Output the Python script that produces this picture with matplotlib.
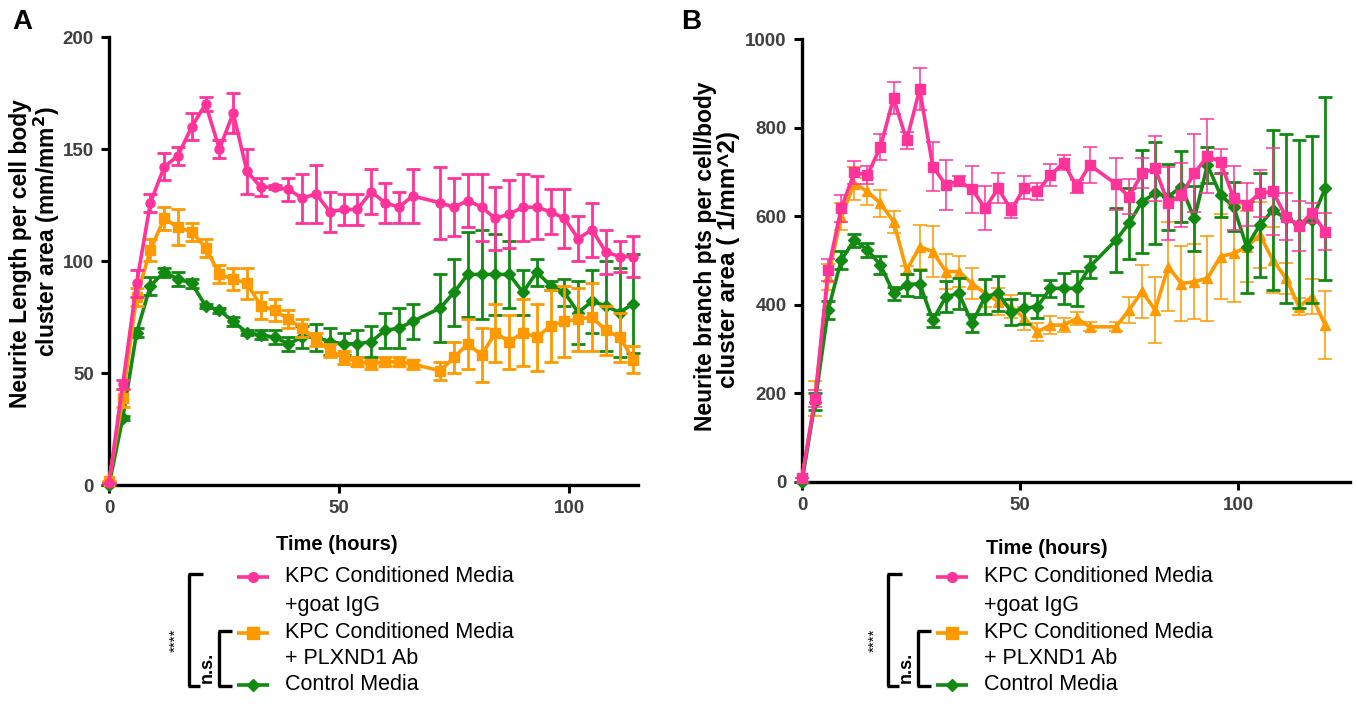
import matplotlib
matplotlib.use("Agg")
import matplotlib.pyplot as plt
from matplotlib.lines import Line2D
import numpy as np

plt.rcParams['font.family'] = ['Liberation Sans', 'DejaVu Sans']

W, H = 1358, 704

# ---------------- data ----------------
tA = [0, 3, 6, 9, 12, 15, 18, 21, 24, 27, 30, 33, 36, 39, 42, 45, 48, 51, 54, 57, 60, 63, 66,
      72, 75, 78, 81, 84, 87, 90, 93, 96, 99, 102, 105, 108, 111, 114]
A_igg = [1, 45, 90, 126, 142, 147, 160, 170, 150, 166, 140, 133, 133, 132, 128, 130, 122, 123, 123, 131, 126, 124, 129,
         126, 124, 127, 124, 119, 121, 124, 124, 122, 119, 110, 114, 104, 102, 102]
A_igg_err = [0, 2, 6, 4, 6, 4, 6, 3, 4, 9, 10, 4, 1, 5, 11, 13, 9, 7, 7, 10, 9, 7, 12,
             16, 13, 12, 15, 14, 15, 15, 14, 10, 13, 10, 12, 10, 7, 9]
A_ab = [2, 39, 84, 105, 119, 115, 113, 106, 94, 92, 90, 80, 78, 74, 70, 65, 60, 57, 55, 54, 55, 55, 54,
        51, 57, 63, 58, 68, 64, 68, 66, 71, 73, 74, 75, 69, 66, 56]
A_ab_err = [0, 4, 4, 5, 5, 8, 4, 4, 4, 5, 7, 6, 5, 4, 4, 3, 3, 3, 2, 2, 2, 2, 2,
            4, 7, 11, 12, 13, 12, 15, 15, 16, 16, 14, 15, 11, 11, 6]
A_ctl = [0, 30, 68, 89, 95, 92, 90, 80, 78, 73, 68, 67, 66, 63, 66, 66, 64, 63, 63, 64, 69, 70, 73,
         79, 86, 94, 94, 94, 94, 86, 95, 89, 86, 77, 82, 80, 77, 81]
A_ctl_err = [0, 1, 2, 4, 2, 3, 2, 1, 1, 2, 1, 2, 3, 3, 5, 6, 6, 5, 6, 7, 8, 9, 8,
             15, 15, 19, 20, 18, 15, 10, 6, 2, 6, 14, 14, 20, 20, 22]

tB = [0, 3, 6, 9, 12, 15, 18, 21, 24, 27, 30, 33, 36, 39, 42, 45, 48, 51, 54, 57, 60, 63, 66,
      72, 75, 78, 81, 84, 87, 90, 93, 96, 99, 102, 105, 108, 111, 114, 117, 120]
B_igg = [8, 188, 478, 618, 699, 693, 757, 867, 772, 887, 712, 671, 680, 661, 618, 663, 614, 665, 656, 693, 721, 667, 716,
         673, 644, 697, 708, 629, 648, 697, 736, 723, 641, 626, 652, 656, 599, 578, 608, 565]
B_igg_err = [0, 20, 25, 30, 25, 20, 30, 36, 19, 47, 56, 56, 11, 53, 50, 34, 17, 26, 19, 24, 17, 15, 41,
             58, 40, 34, 73, 83, 73, 88, 83, 28, 73, 49, 53, 98, 53, 57, 23, 42]
B_ab = [8, 188, 463, 599, 674, 656, 629, 588, 478, 531, 520, 475, 475, 448, 426, 407, 396, 369, 339, 354, 354, 369, 350,
        350, 388, 430, 388, 486, 448, 452, 460, 509, 516, 531, 558, 501, 460, 396, 418, 354]
B_ab_err = [0, 40, 30, 30, 38, 30, 30, 25, 10, 50, 58, 40, 35, 35, 30, 30, 25, 25, 20, 20, 15, 15, 10,
            10, 30, 60, 75, 100, 85, 85, 96, 96, 110, 80, 75, 75, 35, 20, 40, 77]
B_ctl = [0, 181, 388, 501, 546, 524, 490, 426, 445, 448, 365, 418, 426, 358, 418, 426, 384, 392, 396, 437, 437, 437, 486,
         546, 584, 633, 652, 644, 667, 595, 716, 648, 622, 531, 580, 614, 595, 582, 592, 663]
B_ctl_err = [0, 20, 20, 20, 15, 15, 20, 15, 25, 30, 15, 35, 35, 20, 40, 40, 30, 35, 25, 20, 35, 40, 25,
             72, 80, 117, 115, 75, 80, 73, 40, 50, 55, 104, 117, 180, 192, 190, 189, 207]

PINK = '#ff3399'
ORANGE = '#ff9900'
GREEN = '#128a12'

fig = plt.figure(figsize=(W / 100, H / 100), dpi=100)


def fx(x):
    return x / W


def fy(y):
    return 1 - y / H


def style_axes(ax, xlim, ylim, yticks):
    ax.set_xlim(*xlim)
    ax.set_ylim(*ylim)
    ax.set_xticks([0, 50, 100])
    ax.set_yticks(yticks)
    for s in ['top', 'right']:
        ax.spines[s].set_visible(False)
    for s in ['left', 'bottom']:
        ax.spines[s].set_linewidth(2.4)
        ax.spines[s].set_color('black')
    ax.tick_params(axis='both', direction='out', length=6, width=2.2, colors='black',
                   labelcolor='#404040', labelsize=13.5, pad=5)
    for lab in ax.get_xticklabels() + ax.get_yticklabels():
        lab.set_fontweight('bold')
    ax.patch.set_alpha(0)


def plot_series(ax, t, y, e, color, marker, ms, elw, z):
    cont = ax.errorbar(t, y, yerr=e, color=color, marker=marker, markersize=ms, lw=2.6,
                       elinewidth=elw, capsize=5, capthick=elw, zorder=z)
    for art in cont.get_children():
        art.set_clip_on(False)
    cont.lines[0].set_clip_on(False)


# ---------------- panel A ----------------
axA = fig.add_axes([fx(109), fy(485), fx(638) - fx(109), (485 - 37) / H])
plot_series(axA, tA, A_ctl, A_ctl_err, GREEN, 'D', 6, 2.0, 3)
plot_series(axA, tA, A_ab, A_ab_err, ORANGE, 's', 7.5, 2.0, 4)
plot_series(axA, tA, A_igg, A_igg_err, PINK, 'o', 6.5, 2.0, 5)
style_axes(axA, (0, 115), (0, 200), [0, 50, 100, 150, 200])

# ---------------- panel B ----------------
axB = fig.add_axes([fx(802), fy(481.7), fx(1350) - fx(802), (481.7 - 39.3) / H])
plot_series(axB, tB, B_ab, B_ab_err, ORANGE, '^', 7, 1.1, 3)
plot_series(axB, tB, B_ctl, B_ctl_err, GREEN, 'D', 6, 2.0, 4)
plot_series(axB, tB, B_igg, B_igg_err, PINK, 's', 7, 1.1, 5)
style_axes(axB, (0, 125.7), (0, 1000), [0, 200, 400, 600, 800, 1000])

# ---------------- texts ----------------
fig.text(fx(22), fy(22), 'A', fontsize=20, fontweight='bold', ha='center', va='center')
fig.text(fx(691), fy(22), 'B', fontsize=20, fontweight='bold', ha='center', va='center')

fig.text(fx(21), fy(254), 'Neurite Length per cell body', rotation=90, fontsize=16.5,
         fontweight='bold', ha='center', va='center')
fig.text(fx(47), fy(232), 'cluster area (mm/mm$^{\\mathbf{2}}$)', rotation=90, fontsize=16.5,
         fontweight='bold', ha='center', va='center')
fig.text(fx(705), fy(256), 'Neurite branch pts per cell/body', rotation=90, fontsize=16.5,
         fontweight='bold', ha='center', va='center')
fig.text(fx(728), fy(259), 'cluster area ( 1/mm^2)', rotation=90, fontsize=17.5,
         fontweight='bold', ha='center', va='center')

fig.text(fx(337), fy(545), 'Time (hours)', fontsize=14.5, fontweight='bold', ha='center', va='center')
fig.text(fx(1047), fy(548), 'Time (hours)', fontsize=14.5, fontweight='bold', ha='center', va='center')


# ---------------- legends ----------------
def line(x1, y1, x2, y2, color='black', lw=2.4):
    fig.add_artist(Line2D([fx(x1), fx(x2)], [fy(y1), fy(y2)], transform=fig.transFigure,
                          color=color, lw=lw, solid_capstyle='butt'))


def legend(dx):
    handles = [(577, PINK, 'o', 7), (633, ORANGE, 's', 8), (685, GREEN, 'D', 6.5)]
    for (y, c, m, ms) in handles:
        line(237 + dx, y, 269 + dx, y, color=c, lw=2.6)
        fig.add_artist(Line2D([fx(253 + dx)], [fy(y)], transform=fig.transFigure,
                              color=c, marker=m, markersize=ms, lw=0))
    rows = [(577, 'KPC Conditioned Media'), (605, '+goat IgG'), (633, 'KPC Conditioned Media'),
            (659, '+ PLXND1 Ab'), (685, 'Control Media')]
    for y, s in rows:
        fig.text(fx(285 + dx), fy(y), s, fontsize=15.5, ha='left', va='center')
    # outer bracket
    line(189 + dx, 574, 189 + dx, 686)
    line(187.8 + dx, 574, 203 + dx, 574)
    line(187.8 + dx, 686, 200 + dx, 686)
    # inner bracket
    line(219 + dx, 631, 219 + dx, 686)
    line(217.8 + dx, 631, 232 + dx, 631)
    line(217.8 + dx, 686, 232 + dx, 686)
    fig.text(fx(176 + dx), fy(640), '****', rotation=90, fontsize=11, ha='center', va='center')
    fig.text(fx(207 + dx), fy(667), 'n.s.', rotation=90, fontsize=13, fontweight='bold',
             ha='center', va='center')


legend(0)
legend(699)

fig.savefig('out.png', dpi=100)
